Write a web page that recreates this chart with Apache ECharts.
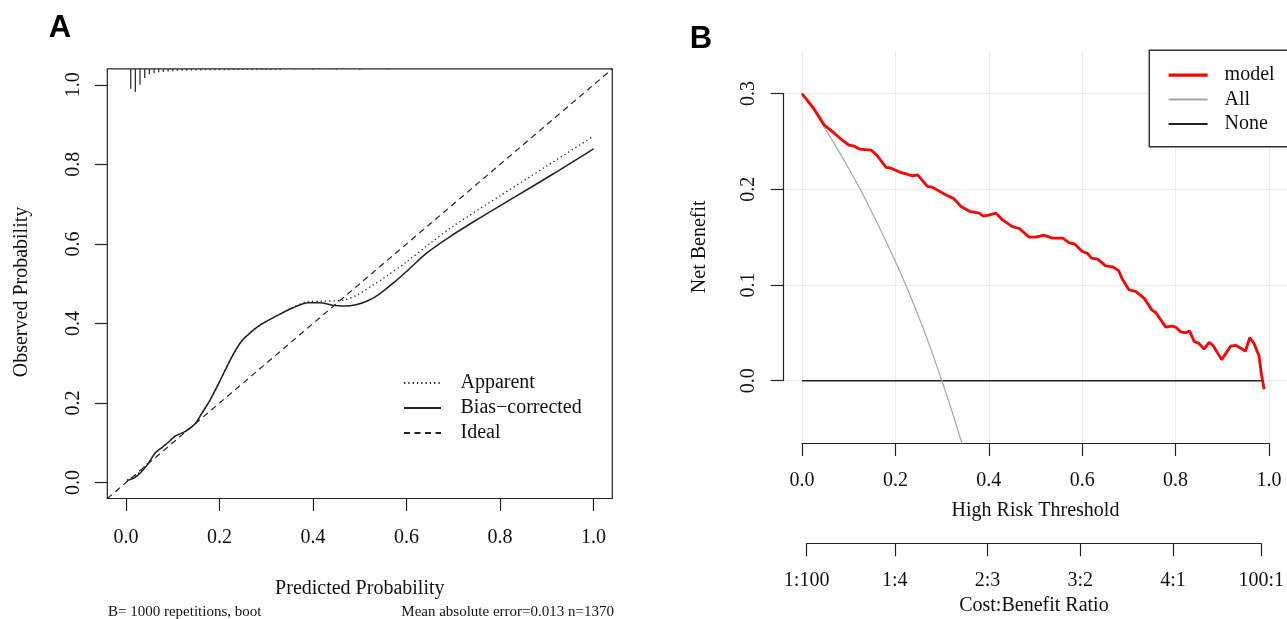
<!DOCTYPE html>
<html>
<head>
<meta charset="utf-8">
<script src="https://cdn.jsdelivr.net/npm/echarts@6/dist/echarts.min.js"></script>
<style>
html,body{margin:0;padding:0;background:#fff;}
#chart{width:1287px;height:619px;}
</style>
</head>
<body>
<div id="chart"></div>
<script>
// ---------- Panel A: calibration ----------
const biasX = [0.002,0.016,0.025,0.037,0.050,0.062,0.080,0.093,0.105,0.126,0.148,0.162,0.180,0.204,0.225,0.246,0.263,0.288,0.322,0.356,0.390,0.415,0.441,0.466,0.492,0.517,0.542,0.576,0.602,0.644,0.686,0.745,0.830,0.915,1.000];
const biasY = [0.005,0.011,0.018,0.032,0.052,0.074,0.091,0.104,0.117,0.128,0.148,0.174,0.208,0.263,0.313,0.354,0.374,0.397,0.419,0.439,0.452,0.452,0.446,0.444,0.447,0.457,0.474,0.506,0.533,0.578,0.613,0.657,0.717,0.777,0.839];
const apparentX = [0.002,0.014,0.025,0.035,0.050,0.062,0.080,0.093,0.105,0.126,0.148,0.162,0.180,0.204,0.225,0.246,0.263,0.288,0.322,0.356,0.390,0.420,0.449,0.466,0.492,0.525,0.550,0.600,0.650,0.700,0.800,0.900,1.000];
const apparentY = [0.006,0.014,0.022,0.035,0.053,0.074,0.091,0.104,0.117,0.128,0.148,0.174,0.208,0.263,0.313,0.354,0.374,0.397,0.419,0.440,0.455,0.456,0.457,0.459,0.470,0.494,0.513,0.555,0.601,0.645,0.721,0.796,0.871];
const idealX = [-0.04, 1.04];
const idealY = [-0.04, 1.04];
const rugX = [0.01,0.02,0.03,0.04,0.05,0.06,0.07,0.08,0.09,0.10,0.11,0.12,0.13,0.14,0.15,0.16,0.17,0.18,0.19,0.20,0.21,0.22,0.23,0.24,0.25,0.26,0.27,0.28,0.29,0.30,0.31,0.32,0.33,0.36,0.40,0.45,0.50,0.56];
const rugH = [0.050,0.058,0.040,0.023,0.014,0.011,0.0083,0.0075,0.0068,0.0058,0.005,0.0046,0.0044,0.0042,0.004,0.0038,0.0036,0.0035,0.0034,0.0033,0.0032,0.0031,0.003,0.003,0.0029,0.0028,0.0028,0.0027,0.0027,0.0026,0.0026,0.0025,0.0025,0.0022,0.0022,0.002,0.002,0.0018];
const axisTicksA = [0, 0.2, 0.4, 0.6, 0.8, 1.0];

// ---------- Panel B: decision curve ----------
const thrModel = [0,0.026,0.048,0.066,0.087,0.101,0.112,0.123,0.148,0.160,0.180,0.191,0.209,0.223,0.237,0.248,0.269,0.280,0.309,0.326,0.341,0.359,0.380,0.389,0.400,0.416,0.430,0.451,0.466,0.487,0.501,0.519,0.537,0.559,0.573,0.584,0.601,0.612,0.621,0.634,0.651,0.666,0.679,0.687,0.701,0.716,0.734,0.750,0.759,0.780,0.793,0.801,0.812,0.823,0.831,0.841,0.851,0.862,0.873,0.881,0.900,0.919,0.930,0.951,0.960,0.969,0.980,0.985,0.991];
const nbModel = [0.300,0.284,0.267,0.260,0.251,0.246,0.245,0.242,0.241,0.236,0.223,0.222,0.218,0.216,0.214,0.215,0.203,0.202,0.194,0.190,0.182,0.177,0.175,0.172,0.173,0.175,0.168,0.161,0.159,0.150,0.150,0.152,0.149,0.149,0.144,0.143,0.135,0.133,0.128,0.127,0.120,0.119,0.115,0.106,0.095,0.093,0.086,0.074,0.071,0.056,0.057,0.056,0.051,0.050,0.052,0.041,0.039,0.033,0.040,0.037,0.022,0.036,0.037,0.031,0.045,0.039,0.026,0.007,-0.009];
const thrAll = [0,0.025,0.05,0.075,0.10,0.125,0.15,0.175,0.20,0.225,0.25,0.275,0.30,0.325,0.35];
const nbAll = [0.300,0.282,0.263,0.243,0.222,0.200,0.176,0.151,0.125,0.097,0.067,0.035,0.000,-0.037,-0.077];
const thrNone = [0, 0.99];
const nbNone = [0, 0];
const thresholdTicks = [0, 0.2, 0.4, 0.6, 0.8, 1.0];
const costTicks = [1/101, 0.2, 0.4, 0.6, 0.8, 100/101];
const costLabels = ['1:100', '1:4', '2:3', '3:2', '4:1', '100:1'];

const zip = (a, b) => a.map((v, i) => [v, b[i]]);
const SERIF = 'Liberation Serif';
const INK = '#111';
const AX = '#222';
const GRIDC = '#ebebeb';

const chart = echarts.init(document.getElementById('chart'), null, {renderer: 'canvas'});
const lbl = (extra) => Object.assign({fontSize: 20, fontFamily: SERIF, color: INK}, extra || {});

const option = {
  animation: false,
  backgroundColor: '#fff',
  textStyle: {fontFamily: SERIF},
  grid: [
    {left: 107.3, top: 68.9, width: 505, height: 429.6, show: true, borderColor: AX, borderWidth: 1.2, backgroundColor: 'transparent'},
    {left: 783.3, top: 50.3, width: 504.4, height: 392.8},
    {left: 802, top: 50.3, width: 467, height: 393},
    {left: 783.3, top: 93.5, width: 504.4, height: 287.2},
    {left: 806.6, top: 443.3, width: 457.8, height: 100.3}
  ],
  xAxis: [
    {gridIndex: 0, type: 'value', min: -0.04, max: 1.04,
     axisLine: {show: false, onZero: false},
     axisTick: {show: true, customValues: axisTicksA, length: 12.5, lineStyle: {color: AX, width: 1.2}},
     axisLabel: lbl({customValues: axisTicksA, margin: 29, formatter: v => v.toFixed(1)}),
     splitLine: {show: false},
     name: 'Predicted Probability', nameLocation: 'middle', nameGap: 90.7,
     nameTextStyle: lbl({verticalAlign: 'middle'})},
    {gridIndex: 1, type: 'value', min: -0.04, max: 1.04, show: false},
    {gridIndex: 2, type: 'value', min: 0, max: 1, interval: 0.2,
     axisLine: {show: true, onZero: false, lineStyle: {color: AX, width: 1.2}},
     axisTick: {show: true, length: 12.7, lineStyle: {color: AX, width: 1.2}},
     axisLabel: lbl({margin: 27, formatter: v => v.toFixed(1)}),
     splitLine: {show: true, lineStyle: {color: GRIDC, width: 1}},
     name: 'High Risk Threshold', nameLocation: 'middle', nameGap: 67.7,
     nameTextStyle: lbl({verticalAlign: 'middle'})},
    {gridIndex: 3, type: 'value', min: -0.04, max: 1.04, show: false},
    {gridIndex: 4, type: 'value', min: 1/101, max: 100/101,
     axisLine: {show: true, onZero: false, lineStyle: {color: AX, width: 1.2}},
     axisTick: {show: true, customValues: costTicks, length: 12.7, lineStyle: {color: AX, width: 1.2}},
     axisLabel: lbl({customValues: costTicks, margin: 27,
       formatter: v => { const i = costTicks.findIndex(t => Math.abs(t - v) < 1e-6); return i >= 0 ? costLabels[i] : ''; }}),
     splitLine: {show: false},
     name: 'Cost:Benefit Ratio', nameLocation: 'middle', nameGap: 62.4,
     nameTextStyle: lbl({verticalAlign: 'middle'})}
  ],
  yAxis: [
    {gridIndex: 0, type: 'value', min: -0.04, max: 1.04,
     axisLine: {show: false, onZero: false},
     axisTick: {show: true, customValues: axisTicksA, length: 12.5, lineStyle: {color: AX, width: 1.2}},
     axisLabel: lbl({customValues: axisTicksA, rotate: 90, margin: 24, formatter: v => v.toFixed(1)}),
     splitLine: {show: false}},
    {gridIndex: 1, type: 'value', min: -0.0652, max: 0.3452, show: false},
    {gridIndex: 2, type: 'value', min: -0.0652, max: 0.3452,
     axisLine: {show: false, onZero: false}, axisTick: {show: false}, axisLabel: {show: false}, splitLine: {show: false},
     name: 'Net Benefit', nameLocation: 'middle', nameGap: 102.5,
     nameTextStyle: lbl({verticalAlign: 'middle'})},
    {gridIndex: 3, type: 'value', min: 0, max: 0.3, interval: 0.1,
     axisLine: {show: true, onZero: false, lineStyle: {color: AX, width: 1.2}},
     axisTick: {show: true, length: 12.6, lineStyle: {color: AX, width: 1.2}},
     axisLabel: lbl({rotate: 90, margin: 25, formatter: v => v.toFixed(1)}),
     splitLine: {show: true, lineStyle: {color: GRIDC, width: 1}}},
    {gridIndex: 4, type: 'value', min: 0, max: 1, show: false}
  ],
  legend: [
    {data: ['Apparent', 'Bias\u2212corrected', 'Ideal'], orient: 'vertical', left: 403, top: 370.5,
     itemWidth: 37, itemHeight: 14, itemGap: 0, padding: 0, selectedMode: false,
     itemStyle: {opacity: 0}, lineStyle: {opacity: 1},
     textStyle: lbl({lineHeight: 25, padding: [0, 0, 0, 14.5]})},
    {data: [{name: 'model', lineStyle: {width: 3.2}}, 'All', 'None'], orient: 'vertical', left: 1149.3, top: 50.3,
     itemWidth: 39, itemHeight: 14, itemGap: 0, padding: [12.5, 40, 10.5, 17.7], selectedMode: false,
     borderColor: '#333', borderWidth: 1.5, backgroundColor: '#fff',
     itemStyle: {opacity: 0}, lineStyle: {opacity: 1},
     textStyle: lbl({lineHeight: 24.5, padding: [0, 0, 0, 12]})}
  ],
  series: [
    {name: 'Ideal', type: 'line', xAxisIndex: 0, yAxisIndex: 0, data: zip(idealX, idealY), symbol: 'none',
     lineStyle: {color: AX, width: 1.2, type: [6, 4.5]}, itemStyle: {color: AX}},
    {name: 'Apparent', type: 'line', xAxisIndex: 0, yAxisIndex: 0, data: zip(apparentX, apparentY), symbol: 'none', smooth: 0.3,
     lineStyle: {color: AX, width: 1.3, type: [1.3, 3]}, itemStyle: {color: AX}},
    {name: 'Bias\u2212corrected', type: 'line', xAxisIndex: 0, yAxisIndex: 0, data: zip(biasX, biasY), symbol: 'none', smooth: 0.3,
     lineStyle: {color: AX, width: 1.5, type: 'solid'}, itemStyle: {color: AX}},
    {name: 'rug', type: 'custom', xAxisIndex: 0, yAxisIndex: 0, data: zip(rugX, rugH), silent: true,
     encode: {x: 0, y: 1},
     renderItem: (params, api) => {
       const top = 1.04;
       const x = api.value(0), h = api.value(1);
       const p1 = api.coord([x, top]);
       const p2 = api.coord([x, top - h]);
       return {type: 'line', shape: {x1: p1[0], y1: p1[1], x2: p2[0], y2: p2[1]}, style: {stroke: '#333', lineWidth: 1.3}};
     }},
    {name: 'None', type: 'line', xAxisIndex: 1, yAxisIndex: 1, data: zip(thrNone, nbNone), symbol: 'none',
     lineStyle: {color: '#222', width: 1.4}, itemStyle: {color: '#222'}, z: 3},
    {name: 'All', type: 'line', xAxisIndex: 1, yAxisIndex: 1, data: zip(thrAll, nbAll), symbol: 'none', smooth: 0.3, clip: true,
     lineStyle: {color: '#a6a6a6', width: 1.2}, itemStyle: {color: '#a6a6a6'}, z: 3},
    {name: 'model', type: 'line', xAxisIndex: 1, yAxisIndex: 1, data: zip(thrModel, nbModel), symbol: 'none',
     lineStyle: {color: '#ff0000', width: 2.8}, itemStyle: {color: '#ff0000'}, z: 4}
  ],
  graphic: [
    {type: 'text', x: 60, y: 28, style: {text: 'A', fontSize: 31, fontWeight: 'bold', fontFamily: 'Liberation Sans', fill: '#000', align: 'center', verticalAlign: 'middle'}},
    {type: 'text', x: 701, y: 39, style: {text: 'B', fontSize: 31, fontWeight: 'bold', fontFamily: 'Liberation Sans', fill: '#000', align: 'center', verticalAlign: 'middle'}},
    {type: 'text', x: 22, y: 292, rotation: Math.PI / 2, style: {text: 'Observed Probability', fontSize: 20, fontFamily: SERIF, fill: INK, align: 'center', verticalAlign: 'middle'}},
    {type: 'text', x: 108, y: 612, style: {text: 'B= 1000 repetitions, boot', fontSize: 15, fontFamily: SERIF, fill: INK, align: 'left', verticalAlign: 'middle'}},
    {type: 'text', x: 614, y: 612, style: {text: 'Mean absolute error=0.013 n=1370', fontSize: 15, fontFamily: SERIF, fill: INK, align: 'right', verticalAlign: 'middle'}}
  ]
};
chart.setOption(option);
</script>
</body>
</html>
